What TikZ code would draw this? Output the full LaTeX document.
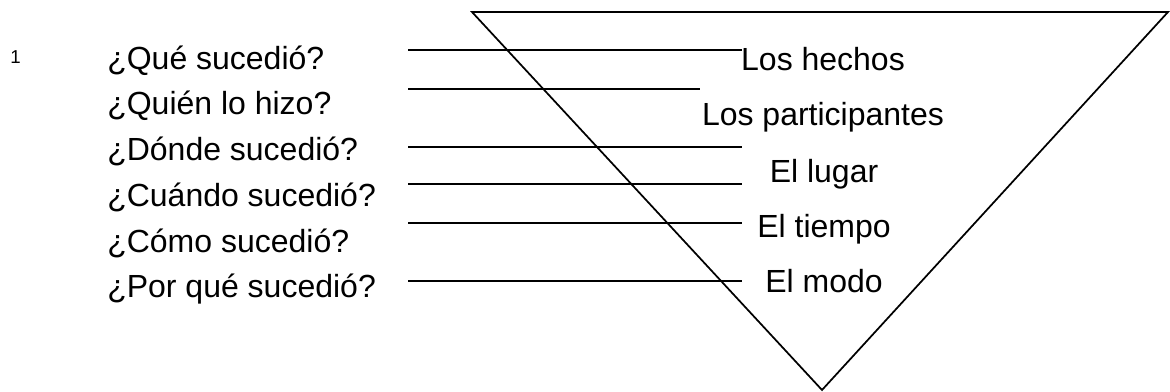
\documentclass[tikz,border=0pt]{standalone}
\usepackage{fontspec}
\setmainfont{Liberation Sans}
\begin{document}
\begin{tikzpicture}[x=0.75pt,y=-0.75pt,
  ln/.style={line width=1.3pt},
  q/.style={anchor=base west,inner sep=0pt,font=\fontsize{24}{28}\selectfont},
  lab/.style={anchor=base,inner sep=0pt,font=\fontsize{24}{28}\selectfont},
  num/.style={anchor=base west,inner sep=0pt,font=\fontsize{14}{17}\selectfont}]
\useasboundingbox (0,0) rectangle (1170,392);
% triangle
\coordinate (tl) at (472,12);
\coordinate (tr) at (1168,12);
\coordinate (bt) at (822,390);
\draw[ln,line join=miter] (tl) -- (tr) -- (bt) -- cycle;
% number
\node[num] (n1) at (10,64) {1};
% questions
\node[q] (q1) at (107,70) {¿Qué sucedió?};
\node[q] (q2) at (107,115) {¿Quién lo hizo?};
\node[q] (q3) at (107,161) {¿Dónde sucedió?};
\node[q] (q4) at (107,206) {¿Cuándo sucedió?};
\node[q] (q5) at (107,252) {¿Cómo sucedió?};
\node[q] (q6) at (107,297) {¿Por qué sucedió?};
% answers
\node[lab] (a1) at (823,71) {Los hechos};
\node[lab] (a2) at (823,126) {Los participantes};
\node[lab] (a3) at (824,182) {El lugar};
\node[lab] (a4) at (824,237) {El tiempo};
\node[lab] (a5) at (824,292) {El modo};
% blank lines
\foreach \y/\e [count=\i] in {50/742,89/700,147/742,184/742,223/742,281/742}{
  \coordinate (ls\i) at (408,\y);
  \coordinate (le\i) at (\e,\y);
  \draw[ln] (ls\i) -- (le\i);
}
\end{tikzpicture}
\end{document}
